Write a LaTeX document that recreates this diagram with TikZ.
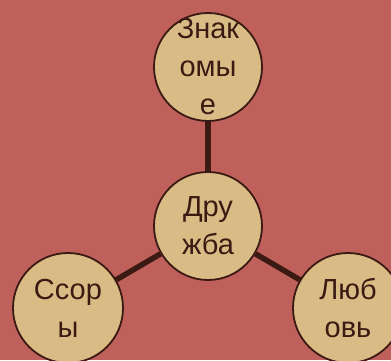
\documentclass[tikz,border=0pt]{standalone}
\usepackage{fontspec}
\setmainfont{Liberation Sans}
\usepackage{xcolor}
\definecolor{bgred}{HTML}{C0605A}
\definecolor{tan}{HTML}{D9BC85}
\definecolor{darkbrown}{HTML}{3A1A12}
\begin{document}
\begin{tikzpicture}[x=1pt,y=1pt,
  bubble/.style={circle,draw=darkbrown,line width=1.8pt,fill=tan,minimum size=108pt,inner sep=0pt},
  word/.style={align=center,text=darkbrown,font=\fontsize{29}{38}\selectfont},
  link/.style={draw=darkbrown,line width=5.5pt}]
\fill[bgred] (0,0) rectangle (391,360);
\useasboundingbox (0,0) rectangle (391,360);
\node[bubble] (mid) at (208,134) {};
\node[bubble] (top) at (208,293) {};
\node[bubble,minimum size=110pt] (left) at (68,52) {};
\node[bubble,minimum size=110pt] (right) at (348,52) {};
\draw[link] (mid) -- (top);
\draw[link] (mid) -- (left);
\draw[link] (mid) -- (right);
\node[word] (midtext) at (mid) {Дру\\жба};
\node[word] (toptext) at (top) {Знак\\омы\\е};
\node[word] (lefttext) at (left) {Ссор\\ы};
\node[word] (righttext) at (right) {Люб\\овь};
\end{tikzpicture}
\end{document}
